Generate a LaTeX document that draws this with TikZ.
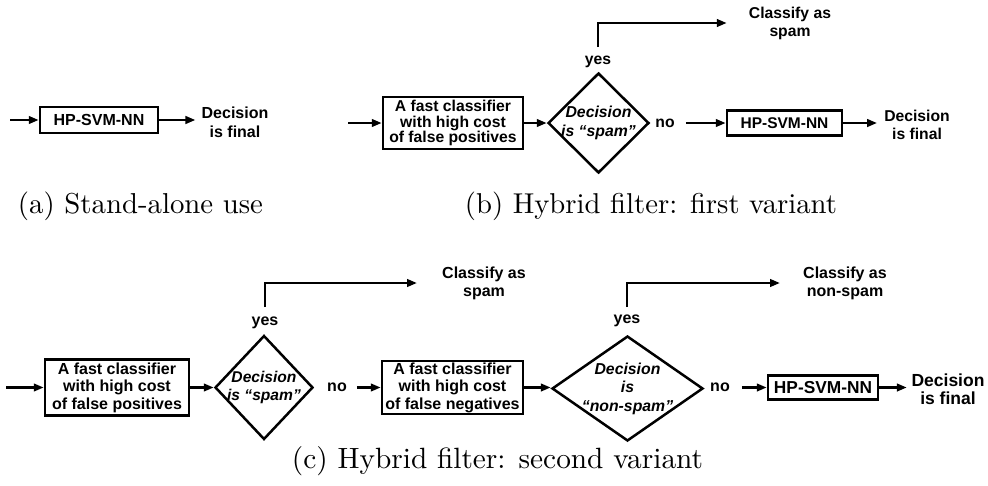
\documentclass[tikz,border=0pt]{standalone}
\usepackage{fontspec}
\usepackage{graphicx}
\usetikzlibrary{arrows.meta,shapes.geometric}
\newfontfamily\hv{Liberation Sans}
\newcommand\fsz[2]{\fontsize{#1}{#2}\selectfont}
\tikzset{
  ln/.style={line width=2.5pt},
  arr/.style={ln,-{Triangle[length=10pt,width=7.5pt]}},
  box/.style={draw, ln, inner sep=0pt, align=center, font=\hv\bfseries\fsz{15.7}{15.5}},
  dia/.style={draw, ln, diamond, inner sep=0pt},
  dtext/.style={inner sep=0pt, align=center, font=\hv\bfseries\itshape\fsz{15.8}{18.5}},
  lbl/.style={inner sep=0pt, align=center, font=\hv\bfseries\fsz{15.7}{18}},
  capt/.style={inner sep=0pt},
}
\begin{document}
\begin{tikzpicture}[x=1pt,y=-1pt]
\useasboundingbox (0,0) rectangle (988,485);
% ---------- (a)
\coordinate (a0) at (10,120);
\node[box, minimum width=118pt, minimum height=26pt, font=\hv\bfseries\fsz{16}{16}] (a1) at (99,120) {HP-SVM-NN};
\node[lbl, font=\hv\bfseries\fsz{16}{19}] (a2) at (235,122) {Decision\\is final};
\draw[arr] (a0) -- (a1.west);
\draw[arr, shorten >=6pt] (a1.east) -- (a1.east -| a2.west);
\node[capt] (ca) at (140.5,206) {\resizebox{245pt}{!}{(a) Stand-alone use}};
% ---------- (b)
\coordinate (b0) at (348,123);
\node[box, minimum width=140pt, minimum height=52pt] (b1) at (453,123) {A fast classifier\\with high cost\\of false positives};
\node[dia, minimum width=101pt, minimum height=100pt] (b2) at (598.5,123) {};
\node[dtext] (b2t) at (b2.center) {Decision\\is “spam”};
\node[lbl] (b3) at (598,62) {yes};
\coordinate (b3t) at (598,47);
\node[lbl] (b4) at (790,23) {Classify as\\spam};
\node[lbl] (b5) at (665,123) {no};
\node[box, minimum width=115pt, minimum height=25pt, font=\hv\bfseries\fsz{15.5}{15.5}] (b6) at (784.5,123) {HP-SVM-NN};
\node[lbl] (b7) at (917,124.5) {Decision\\is final};
\draw[arr] (b0) -- (b1.west);
\draw[arr] (b1.east) -- (b2.west);
\draw[arr, shorten >=22pt] (b3t) |- (b4.west);
\draw[arr, shorten <=11pt] (b5.east) -- (b6.west);
\draw[arr, shorten >=7pt] (b6.east) -- (b6.east -| b7.west);
\node[capt] (cb) at (651,206) {\resizebox{372pt}{!}{(b) Hybrid filter: first variant}};
% ---------- (c)
\coordinate (c0) at (6,387.5);
\node[box, minimum width=144pt, minimum height=56pt, font=\hv\bfseries\fsz{16}{17.5}] (c1) at (117,387.5) {A fast classifier\\with high cost\\of false positives};
\node[dia, minimum width=98pt, minimum height=104pt] (c2) at (264,387.5) {};
\node[dtext, font=\hv\bfseries\itshape\fsz{15.6}{18}] (c2t) at (c2.center) {Decision\\is “spam”};
\node[lbl, font=\hv\bfseries\fsz{16}{18}] (c3) at (265,323) {yes};
\coordinate (c3t) at (265,307);
\node[lbl, font=\hv\bfseries\fsz{16}{18}] (c4) at (484,283) {Classify as\\spam};
\node[lbl, font=\hv\bfseries\fsz{16}{18}] (c5) at (337,387.5) {no};
\node[box, minimum width=141pt, minimum height=53pt, font=\hv\bfseries\fsz{16}{17.5}] (c6) at (452.5,387.5) {A fast classifier\\with high cost\\of false negatives};
\node[dia, minimum width=151pt, minimum height=105pt] (c7) at (627.5,388.5) {};
\node[dtext] (c7t) at (c7.center) {Decision\\is\\“non-spam”};
\node[lbl, font=\hv\bfseries\fsz{16}{18}] (c8) at (627,321) {yes};
\coordinate (c8t) at (627,307);
\node[lbl, font=\hv\bfseries\fsz{16}{18}] (c9) at (845,283) {Classify as\\non-spam};
\node[lbl, font=\hv\bfseries\fsz{16}{18}] (c10) at (720,387.5) {no};
\node[box, minimum width=110pt, minimum height=24pt, font=\hv\bfseries\fsz{17.3}{17.3}] (c11) at (823,387.5) {HP-SVM-NN};
\node[lbl, font=\hv\bfseries\fsz{17.5}{18}] (c12) at (948,389) {Decision\\is final};
\draw[arr] (c0) -- (c1.west);
\draw[arr] (c1.east) -- (c1.east -| c2.west);
\draw[arr, shorten >=25pt] (c3t) |- (c4.west);
\draw[arr, shorten <=10pt] (c5.east) -- (c6.west);
\draw[arr] (c6.east) -- (c6.east -| c7.west);
\draw[arr, shorten >=23pt] (c8t) |- (c9.west);
\draw[arr, shorten <=12pt] (c10.east) -- (c11.west);
\draw[arr, shorten >=4.5pt] (c11.east) -- (c11.east -| c12.west);
\node[capt] (cc) at (497.5,461.5) {\resizebox{411pt}{!}{(c) Hybrid filter: second variant}};
\end{tikzpicture}
\end{document}
